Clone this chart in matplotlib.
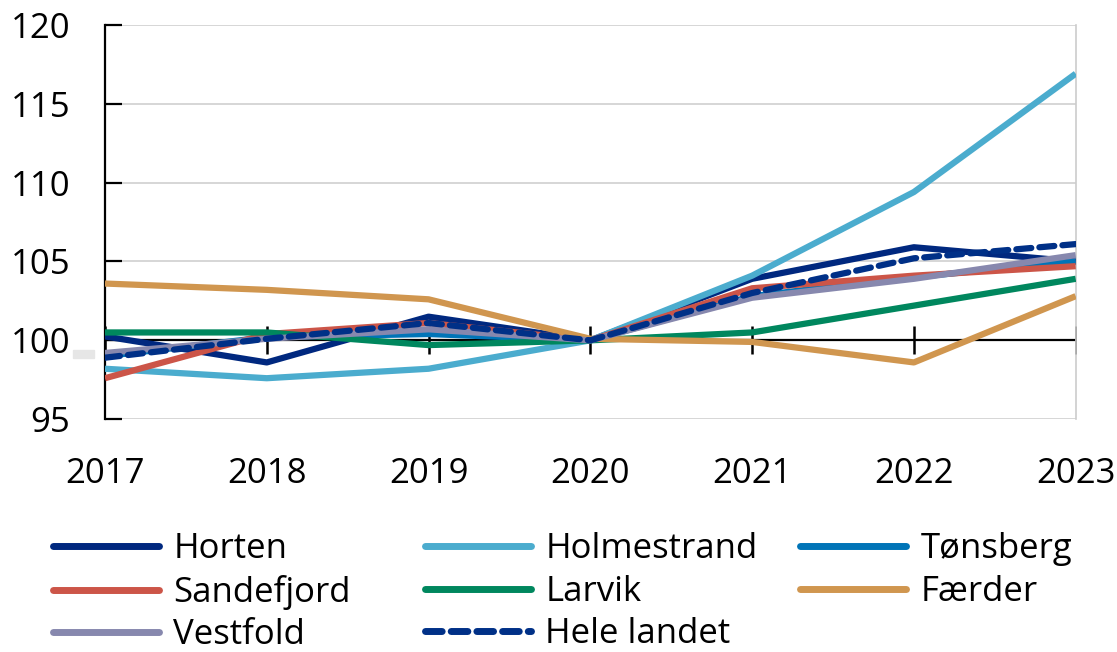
import numpy as np
import matplotlib
matplotlib.use("Agg")
import matplotlib.pyplot as plt
from matplotlib.patches import Rectangle

plt.rcParams['font.family'] = ['Open Sans', 'DejaVu Sans']

years = [2017, 2018, 2019, 2020, 2021, 2022, 2023]

horten      = [100.25, 98.6, 101.5, 100.0, 103.9, 105.9, 105.0]
holmestrand = [98.2, 97.6, 98.2, 100.0, 104.1, 109.4, 116.9]
tonsberg    = [99.0, 100.2, 100.4, 100.0, 102.8, 104.0, 105.0]
sandefjord  = [97.6, 100.4, 101.1, 100.0, 103.3, 104.1, 104.7]
larvik      = [100.5, 100.5, 99.7, 100.0, 100.5, 102.2, 103.9]
faerder     = [103.6, 103.2, 102.6, 100.1, 99.9, 98.6, 102.8]
vestfold    = [99.2, 100.1, 100.7, 100.0, 102.7, 103.9, 105.4]
hele_landet = [98.9, 100.1, 101.1, 100.0, 103.0, 105.2, 106.1]

series = [
    ("Horten", horten, "#00287f", "-"),
    ("Holmestrand", holmestrand, "#4bacce", "-"),
    ("Tønsberg", tonsberg, "#0074b7", "-"),
    ("Sandefjord", sandefjord, "#cc5548", "-"),
    ("Larvik", larvik, "#00875e", "-"),
    ("Færder", faerder, "#d0964f", "-"),
    ("Vestfold", vestfold, "#8788ae", "-"),
    ("Hele landet", hele_landet, "#003087", "--"),
]

fig = plt.figure(figsize=(11.17, 6.52), dpi=100)
ax = fig.add_axes([0.094, 0.357, 0.869, 0.605])

# x-axis line at 100 with tick marks
ax.plot(years, [100] * len(years), color="black", lw=1.6, marker="|",
        markersize=20, markeredgewidth=1.8, zorder=2)

handles = {}
for name, vals, col, ls in series:
    if ls == "--":
        h, = ax.plot(years, vals, color=col, lw=4.5, ls=(0, (2.4, 1.3)),
                     dash_capstyle="round", zorder=4, label=name)
    else:
        h, = ax.plot(years, vals, color=col, lw=4.5, solid_capstyle="butt",
                     zorder=3, label=name)
    handles[name] = h

ax.set_xlim(2017, 2023)
ax.set_ylim(95, 120)
ax.set_yticks([95, 100, 105, 110, 115, 120])
ax.yaxis.grid(True, color="#d0d0d0", lw=1.2)
ax.set_axisbelow(True)

for s in ["top", "bottom"]:
    ax.spines[s].set_visible(False)
ax.spines["right"].set_color("#cccccc")
ax.spines["right"].set_linewidth(1.2)
ax.spines["left"].set_color("black")
ax.spines["left"].set_linewidth(1.6)

ax.set_xticks(years)
ax.set_xticklabels([str(y) for y in years])
ax.tick_params(axis="x", length=0, pad=27, labelsize=25)
ax.tick_params(axis="y", direction="in", length=12, width=1.6, pad=25, labelsize=25)

fig.patches.append(Rectangle((73 / 1117, 1 - 358 / 652), 21 / 1117, 8 / 652,
                             transform=fig.transFigure, color="#e6e6e6"))

# legend: three fixed-width columns, filled row by row
columns = [["Horten", "Sandefjord", "Vestfold"],
           ["Holmestrand", "Larvik", "Hele landet"],
           ["Tønsberg", "Færder"]]
col_x = [53, 425, 800]
for names, x in zip(columns, col_x):
    leg = fig.legend([handles[n] for n in names], names, frameon=False,
                     loc="upper left", bbox_to_anchor=(x / 1117, 1 - 532 / 652),
                     fontsize=25, handlelength=3.05, handletextpad=0.42,
                     labelspacing=0.25, borderpad=0, borderaxespad=0)
    for line in leg.get_lines():
        line.set_linewidth(5)
        line.set_solid_capstyle("round")
        line.set_dash_capstyle("round")

fig.savefig("out.png", dpi=100)
